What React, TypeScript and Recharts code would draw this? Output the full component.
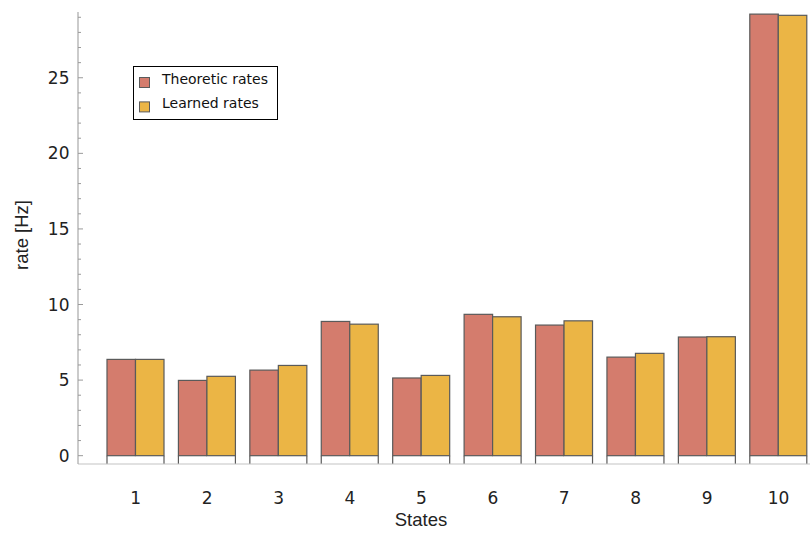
import React from 'react';
import { BarChart, Bar, XAxis, YAxis } from 'recharts';

// Firing rate per state: theoretical vs. learned
const states = [1, 2, 3, 4, 5, 6, 7, 8, 9, 10];
const theoreticRates = [6.37, 4.98, 5.66, 8.88, 5.14, 9.35, 8.64, 6.52, 7.85, 29.21];
const learnedRates = [6.37, 5.25, 5.97, 8.7, 5.31, 9.19, 8.92, 6.77, 7.87, 29.13];
const yTicks = Array.from({ length: 30 }, (_, i) => i);
const xTicks = states;

const seriesNames = ['Theoretic rates', 'Learned rates'];
const seriesColors = ['#D47C6D', '#EBB545'];

const data = states.map((s, i) => ({
  state: s,
  theoretic: theoreticRates[i],
  learned: learnedRates[i],
}));

const EDGE = '#5a5a5a';
const TICK_FONT = '"DejaVu Sans", sans-serif';
const LABEL_FONT = '"Liberation Sans", Arial, sans-serif';

// Bar with a white base strip under the zero line; each group is outlined on its outer sides.
const makeBarShape = (fill: string, side: 'left' | 'right') => (props: any) => {
  const { x, y, width, height, background, index } = props;
  const base = y + height;
  const bottom = background ? background.y + background.height : base + 8;
  const edgeX = side === 'left' ? x : x + width;
  const outer =
    (side === 'left' && index === 0) || (side === 'right' && index === states.length - 1);
  return (
    <g>
      <rect x={x} y={base} width={width} height={Math.max(0, bottom - base)} fill="#ffffff" />
      <line x1={edgeX} y1={base} x2={edgeX} y2={bottom + (outer ? 4 : 0)} stroke={EDGE} strokeWidth={1.2} />
      <rect x={x} y={y} width={width} height={height} fill={fill} stroke={EDGE} strokeWidth={1.2} />
    </g>
  );
};

const YTick = (props: any) => {
  const { x, y, payload } = props;
  const major = payload.value % 5 === 0;
  return (
    <g>
      <line x1={x} x2={x + (major ? 5 : 3)} y1={y} y2={y} stroke="#9a9a9a" strokeWidth={1} />
      {major && (
        <text x={x - 8.5} y={y} dy="0.36em" textAnchor="end" fontFamily={TICK_FONT} fontSize={17} fill="#222">
          {payload.value}
        </text>
      )}
    </g>
  );
};

const XTick = (props: any) => {
  const { x, y, payload } = props;
  return (
    <text x={x} y={y + 33.5} dy="0.36em" textAnchor="middle" fontFamily={TICK_FONT} fontSize={17} fill="#222">
      {payload.value}
    </text>
  );
};

const LegendBox = () => (
  <svg width={146} height={55} style={{ display: 'block' }}>
    <rect x={0.5} y={0.5} width={144} height={53} fill="#ffffff" stroke="#000" strokeWidth={1} />
    {seriesNames.map((name, i) => (
      <g key={name}>
        <rect x={6.5} y={11.5 + i * 24.4} width={10} height={10} fill={seriesColors[i]} stroke={EDGE} strokeWidth={1} />
        <text x={29} y={17.6 + i * 24.4} fontFamily={TICK_FONT} fontSize={14} fill="#111">
          {name}
        </text>
      </g>
    ))}
  </svg>
);

export default function App() {
  return (
    <div style={{ position: 'absolute', left: 0, top: 0, width: 810, height: 535, background: '#fff' }}>
      <BarChart
        width={810}
        height={535}
        data={data}
        margin={{ top: 12, right: 0, bottom: 0, left: 0 }}
        barGap={0}
      >
        <XAxis
          dataKey="state"
          type="number"
          domain={[0.192, 10.441]}
          allowDataOverflow
          ticks={xTicks}
          interval={0}
          height={71}
          tickSize={0}
          tickMargin={0}
          tickLine={false}
          tick={<XTick />}
          axisLine={{ stroke: '#c4c4c4', strokeWidth: 1.2 }}
          label={{
            content: (p: any) => {
              const vb = p.viewBox || { x: 78, y: 464, width: 732 };
              return (
                <text x={vb.x + vb.width / 2 - 23} y={vb.y + 62} textAnchor="middle" fontFamily={LABEL_FONT} fontSize={18.5} fill="#222">
                  States
                </text>
              );
            },
          }}
        />
        <YAxis
          type="number"
          domain={[-0.55, 29.35]}
          allowDataOverflow
          ticks={yTicks}
          interval={0}
          width={78}
          tickSize={0}
          tickMargin={0}
          tickLine={false}
          tick={<YTick />}
          axisLine={{ stroke: '#a8a8a8', strokeWidth: 1.2 }}
          label={{
            content: (p: any) => {
              const vb = p.viewBox || { x: 0, y: 12, height: 452 };
              const cy = vb.y + vb.height / 2 - 3;
              return (
                <text
                  x={21}
                  y={cy}
                  transform={`rotate(-90, 21, ${cy})`}
                  textAnchor="middle"
                  dominantBaseline="central"
                  fontFamily={LABEL_FONT}
                  fontSize={18.5}
                  fill="#222"
                >
                  rate [Hz]
                </text>
              );
            },
          }}
        />
        <Bar
          dataKey="theoretic"
          name={seriesNames[0]}
          fill={seriesColors[0]}
          barSize={28.5}
          isAnimationActive={false}
          shape={makeBarShape(seriesColors[0], 'left')}
        />
        <Bar
          dataKey="learned"
          name={seriesNames[1]}
          fill={seriesColors[1]}
          barSize={28.5}
          isAnimationActive={false}
          shape={makeBarShape(seriesColors[1], 'right')}
        />
      </BarChart>
      <div style={{ position: 'absolute', left: 133, top: 66 }}>
        <LegendBox />
      </div>
    </div>
  );
}
